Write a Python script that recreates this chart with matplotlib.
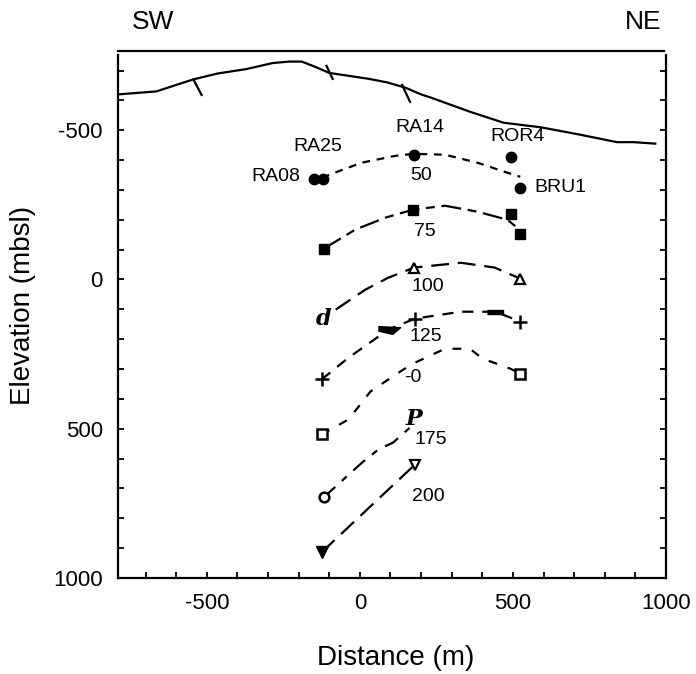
import matplotlib
matplotlib.use("Agg")
import matplotlib.pyplot as plt
from matplotlib.ticker import MultipleLocator

plt.rcParams['font.family'] = ['Liberation Sans', 'DejaVu Sans']
plt.rcParams['axes.unicode_minus'] = False

# ---------------- data (distance m, elevation mbsl) ----------------
topo_x = [-790, -665, -590, -545, -465, -370, -285, -230, -190, -145, -100, -35, 30, 90,
          150, 200, 230, 365, 470, 590, 720, 840, 895, 965]
topo_y = [-620, -630, -655, -670, -690, -705, -725, -730, -730, -712, -692, -682, -672, -660,
          -642, -620, -610, -560, -525, -510, -485, -460, -460, -455]

fault_x0 = [-543, -109, 138]
fault_y0 = [-669, -716, -652]
fault_x1 = [-517, -89, 164]
fault_y1 = [-618, -672, -595]

# isotherm curves
c50_x = [-122, -102, 5, 115, 174, 278, 385, 472, 524]
c50_y = [-337, -350, -391, -414, -421, -418, -391, -361, -344]
c75_x = [-118, -15, 83, 174, 278, 385, 482, 515]
c75_y = [-103, -167, -207, -234, -247, -227, -200, -173]
c100_x = [-79, 18, 93, 177, 330, 440, 524]
c100_y = [101, 34, -6, -40, -56, -40, -3]
c125_x = [-125, -37, 93, 180, 330, 443, 524]
c125_y = [335, 262, 168, 131, 108, 108, 141]
c150_x = [-125, -37, 34, 93, 167, 278, 359, 401, 492, 524]
c150_y = [519, 469, 376, 335, 285, 232, 232, 265, 299, 315]
c175_x = [-118, -54, 11, 60, 109, 170]
c175_y = [730, 670, 610, 570, 546, 490]
c200_x = [-125, 180]
c200_y = [914, 620]

# well measurement points
w50_x = [-151, -122, 177, 495, 524]
w50_y = [-337, -337, -418, -411, -307]
w75_x = [-118, 174, 495, 524]
w75_y = [-103, -234, -220, -153]
w100_x = [177, 524]
w100_y = [-40, -3]
w125_x = [180, 524, -125]
w125_y = [131, 141, 335]
w150_x = [524, -125]
w150_y = [315, 519]
w175_x = [-118]
w175_y = [730]
w200o_x = [180]
w200o_y = [620]
w200f_x = [-125]
w200f_y = [914]
blob_x = [96]
blob_y = [168]
bar_x = [443]
bar_y = [108]

well_names = ['RA08', 'RA25', 'RA14', 'ROR4', 'BRU1']
well_lx = [-274, -138, 196, 515, 570]
well_ly = [-344, -444, -508, -478, -307]
well_ha = ['center', 'center', 'center', 'center', 'left']

iso_labels = ['50', '75', '100', '125', '-0', '175', '200']
iso_lx = [200, 213, 222, 216, 174, 232, 222]
iso_ly = [-347, -160, 24, 191, 329, 535, 727]

glyph_text = ['d', 'P']
glyph_x = [-118, 176]
glyph_y = [134, 466]

xticks = [-500, 0, 500, 1000]
yticks = [-500, 0, 500, 1000]

# ---------------- figure ----------------
W, H = 696, 674
fig = plt.figure(figsize=(W / 100, H / 100), dpi=100)
ax = fig.add_axes([118 / W, 1 - 578 / H, (666 - 118) / W, (578 - 55) / H])
ax.set_xlim(-790, 1000)
ax.set_ylim(1000, -752)

lw = 1.6
ax.plot(topo_x, topo_y, color='k', lw=1.6, solid_joinstyle='round')
for a, b, c, d in zip(fault_x0, fault_y0, fault_x1, fault_y1):
    ax.plot([a, c], [b, d], color='k', lw=1.6)

ax.plot(c50_x, c50_y, color='k', lw=lw, dashes=(3.5, 3))
ax.plot(c75_x, c75_y, color='k', lw=lw, dashes=(9, 3, 4, 3))
ax.plot(c100_x, c100_y, color='k', lw=lw, dashes=(8, 4))
ax.plot(c125_x, c125_y, color='k', lw=lw, dashes=(5, 4))
ax.plot(c150_x, c150_y, color='k', lw=lw, dashes=(4, 5))
ax.plot(c175_x, c175_y, color='k', lw=lw, dashes=(7, 4, 3, 4))
ax.plot(c200_x, c200_y, color='k', lw=lw, dashes=(8, 4))

ax.plot(w50_x, w50_y, 'o', color='k', ms=7.5, ls='none')
ax.plot(w75_x, w75_y, 's', color='k', ms=7, ls='none')
ax.plot(w100_x, w100_y, '^', mfc='white', mec='k', mew=1.6, ms=7, ls='none')
ax.plot(w125_x, w125_y, '+', color='k', mew=1.8, ms=10, ls='none')
ax.plot(w150_x, w150_y, 's', mfc='white', mec='k', mew=1.8, ms=7, ls='none')
ax.plot(w175_x, w175_y, 'o', mfc='white', mec='k', mew=1.8, ms=7, ls='none')
ax.plot(w200o_x, w200o_y, 'v', mfc='white', mec='k', mew=1.6, ms=7, ls='none')
ax.plot(w200f_x, w200f_y, 'v', color='k', ms=8, ls='none')
ax.plot(blob_x, blob_y, marker=[(-1, 0.35), (1, 0.25), (0.3, -0.35), (-1, -0.05)],
        color='k', ms=16, ls='none')
ax.plot(bar_x, bar_y, marker=[(-1, -0.25), (1, -0.25), (1, 0.25), (-1, 0.25)],
        color='k', ms=12, ls='none')

for n, x, y, ha in zip(well_names, well_lx, well_ly, well_ha):
    ax.text(x, y, n, ha=ha, va='center', fontsize=14)
for n, x, y in zip(iso_labels, iso_lx, iso_ly):
    ax.text(x, y, n, ha='center', va='center', fontsize=14)
for n, x, y in zip(glyph_text, glyph_x, glyph_y):
    ax.text(x, y, n, ha='center', va='center', fontsize=16, family='DejaVu Serif',
            style='italic', weight='bold')

# axes styling
for s in ['left', 'right', 'bottom']:
    ax.spines[s].set_linewidth(1.6)
ax.spines['top'].set_visible(False)
ax.set_xticks(xticks)
ax.set_yticks(yticks)
ax.xaxis.set_minor_locator(MultipleLocator(100))
ax.yaxis.set_minor_locator(MultipleLocator(100))
ax.tick_params(which='both', direction='in', length=4, width=1.3,
               top=False, right=True, left=True, bottom=True)
ax.tick_params(axis='both', which='major', labelsize=16)
ax.tick_params(axis='x', which='major', pad=11)
ax.tick_params(axis='y', which='major', pad=11)

# top line and direction labels
ax.plot([0, 0.996], [1.008, 1.008], transform=ax.transAxes, clip_on=False,
        color='k', lw=1.6)
fig.text(153 / W, 1 - 22 / H, 'SW', ha='center', va='center', fontsize=19)
fig.text(643 / W, 1 - 22 / H, 'NE', ha='center', va='center', fontsize=19)

fig.text(23 / W, 1 - 305 / H, 'Elevation (mbsl)', rotation=90, ha='center',
         va='center', fontsize=20)
fig.text(396 / W, 1 - 658 / H, 'Distance (m)', ha='center', va='center', fontsize=20)

fig.savefig('out.png', dpi=100)
